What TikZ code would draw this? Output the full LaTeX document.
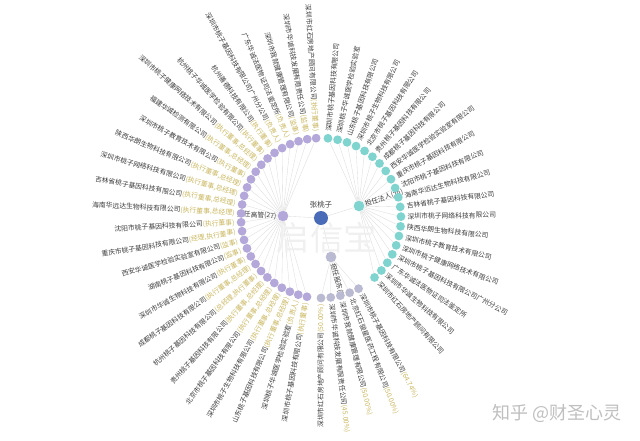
\documentclass[tikz,border=0pt]{standalone}
\usepackage{fontspec}
\setmainfont{Noto Sans CJK SC}
\usetikzlibrary{positioning,backgrounds}

\definecolor{tealc}{HTML}{80D4D0}
\definecolor{purpc}{HTML}{B3A8D9}
\definecolor{sharec}{HTML}{BABAD2}
\definecolor{centerc}{HTML}{4A6CB8}
\definecolor{fanc}{HTML}{DADADA}
\definecolor{txtc}{HTML}{3C3C3C}
\definecolor{rolec}{HTML}{C9B55C}

\def\ringr{80}
\def\labr{86}

\begin{document}
\begin{tikzpicture}[x=0.75pt,y=0.75pt,
    fan/.style={draw=fanc,line width=0.25pt},
    dot/.style={circle,inner sep=0pt,minimum size=6.6pt},
    lbl/.style={inner sep=0.3pt,text=txtc,font=\fontsize{5.1}{6}\selectfont}]
    \useasboundingbox (-321,-222) rectangle (319,218);
    % watermarks
    \node[text=black!6,font=\fontsize{25}{25}\selectfont] (wm) at (6,-20) {启信宝};
    \node[text=black!25,font=\fontsize{13.5}{14}\selectfont] (zh) at (236,-195) {知乎 @财圣心灵};
    % person and the three branches
    \node[dot,fill=centerc,minimum size=10.5pt] (me) at (0,0) {};
    \node[lbl,font=\fontsize{5.6}{6}\selectfont,above=1.5pt of me] (mename) {张桃子};
    \node[dot,fill=tealc,minimum size=8pt] (fr) at (38,12) {};
    \node[dot,fill=purpc,minimum size=8pt] (gg) at (-38,2) {};
    \node[dot,fill=sharec,minimum size=8pt] (gd) at (10,-39) {};
    \node[lbl,anchor=west,rotate=17.5] (frname) at (43.7,13.8) {担任法人(20)};
    \node[lbl,anchor=east,rotate=-3] (ggname) at (-44,1.7) {担任高管(27)};
    \node[lbl,anchor=west,rotate=-75] (gdname) at (11.6,-44.8) {担任股东(5)};
    % legal representative
    \foreach \co [count=\i] in {深圳市桃子基因科技有限公司, 深圳桃子华诚医学检验实验室,
        山东桃子基因科技有限公司, 深圳市桃子生物科技有限公司, 北京市桃子基因科技有限公司,
        贵州桃子基因科技有限公司, 成都桃子基因科技有限公司, 西安华诚医学检验实验室有限公司,
        重庆市桃子基因科技有限公司, 沈阳市桃子基因科技有限公司, 海南华远达生物科技有限公司,
        吉林省桃子基因科技有限公司, 深圳市桃子网络科技有限公司, 陕西华朗生物科技有限公司,
        深圳市桃子教育技术有限公司, 深圳市桃子健康网络技术有限公司,
        深圳市桃子基因科技有限公司广州分公司, 广东华诚法医物证司法鉴定所,
        深圳市华诚生物科技有限公司, 深圳市红石房地产顾问有限公司}{
      \pgfmathsetmacro\a{85-7*(\i-1)}
      \node[dot,fill=tealc] (t\i) at (\a:\ringr) {};
      \node[lbl,anchor=west,rotate=\a] (tl\i) at (\a:\labr) {\co};
    }
    % executives
    \foreach \co/\ro [count=\i] in {深圳市红石房地产顾问有限公司/执行董事,
        深圳市华诚科技发展有限责任公司/监事, 深圳市我就健康管理有限公司/监事,
        广东华诚法医物证司法鉴定所/负责人, 深圳市桃子基因科技有限公司广州分公司/负责人,
        杭州善德科技有限公司/执行董事, 杭州桃子华诚医学检验有限公司/执行董事,
        深圳市桃子健康网络技术有限公司/{执行董事,总经理}, 福建华诚检测有限公司/{执行董事,总经理},
        深圳市桃子教育技术有限公司/执行董事, 陕西华朗生物科技有限公司/{执行董事,总经理},
        深圳市桃子网络科技有限公司/{执行董事,总经理}, 吉林省桃子基因科技有限公司/{执行董事,总经理},
        海南华远达生物科技有限公司/{执行董事,总经理}, 沈阳市桃子基因科技有限公司/执行董事,
        重庆市桃子基因科技有限公司/{经理,执行董事}, 西安华诚医学检验实验室有限公司/监事,
        湖南桃子基因科技有限公司/监事, 深圳市华诚生物科技有限公司/执行董事,
        成都桃子基因科技有限公司/{执行董事,总经理}, 杭州桃子基因科技有限公司/{总经理,执行董事},
        贵州桃子基因科技有限公司/{执行董事,总经理}, 北京市桃子基因科技有限公司/{执行董事,总经理},
        深圳市桃子生物科技有限公司/{执行董事,总经理}, 山东桃子基因科技有限公司/{执行董事,总经理},
        深圳桃子华诚医学检验实验室/负责人, 深圳市桃子基因科技有限公司/执行董事}{
      \pgfmathsetmacro\a{93.5+6.4*(\i-1)}
      \node[dot,fill=purpc] (p\i) at (\a:\ringr) {};
      \node[lbl,anchor=east,rotate=\a+180] (pl\i) at (\a:\labr) {\co\textcolor{rolec}{(\ro)}};
    }
    % shareholdings
    \foreach \co/\pc [count=\i] in {深圳市桃子基因科技有限公司/64.74\%,
        北京红石骏星医药工程有限公司/50.00\%, 深圳市我就健康管理有限公司/50.00\%,
        深圳市华诚科技发展有限责任公司/45.00\%, 深圳市红石房地产顾问有限公司/50.00\%}{
      \pgfmathsetmacro\a{-62-7*(\i-1)}
      \pgfmathtruncatemacro\lft{\i>4}
      \node[dot,fill=sharec] (s\i) at (\a:\ringr) {};
      \ifnum\lft=1
        \node[lbl,anchor=east,rotate=\a+180] (sl\i) at (\a:\labr) {\co\textcolor{rolec}{(\pc)}};
      \else
        \node[lbl,anchor=west,rotate=\a] (sl\i) at (\a:\labr) {\co\textcolor{rolec}{(\pc)}};
      \fi
    }
    % connectors behind the dots
    \begin{scope}[on background layer]
    \draw[fan] (me) -- (fr);
    \draw[fan] (me) -- (gg);
    \draw[fan] (me) -- (gd);
    \foreach \i in {1,...,20} \draw[fan] (fr) -- (t\i);
    \foreach \i in {1,...,27} \draw[fan] (gg) -- (p\i);
    \foreach \i in {1,...,5} \draw[fan] (gd) -- (s\i);
    \end{scope}
\end{tikzpicture}
\end{document}
